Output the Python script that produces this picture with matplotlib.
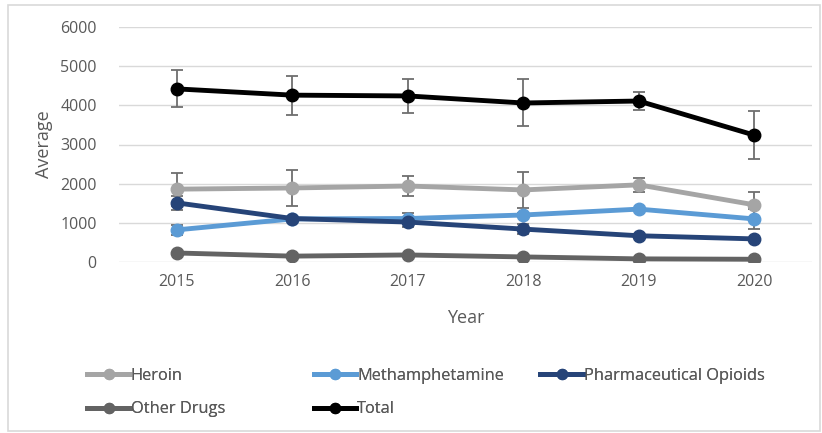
import matplotlib.pyplot as plt
from matplotlib.patches import Rectangle

plt.rcParams['font.family'] = ['Open Sans', 'DejaVu Sans']

years = [2015, 2016, 2017, 2018, 2019, 2020]

heroin = [1860, 1890, 1940, 1840, 1970, 1460]
heroin_err = [420, 470, 260, 460, 180, 340]

meth = [820, 1100, 1110, 1200, 1350, 1100]
meth_err = [120, 60, 130, 60, 40, 260]

pharma = [1510, 1110, 1020, 840, 670, 590]
pharma_err = [170, 40, 130, 130, 30, 30]

other = [230, 150, 180, 130, 80, 70]
other_err = [20, 20, 20, 20, 10, 10]

total = [4420, 4260, 4240, 4060, 4110, 3240]
total_err = [470, 500, 430, 600, 220, 610]

series = [
    ("Heroin", heroin, heroin_err, "#a5a5a5"),
    ("Methamphetamine", meth, meth_err, "#5b9bd5"),
    ("Pharmaceutical Opioids", pharma, pharma_err, "#264478"),
    ("Other Drugs", other, other_err, "#636363"),
    ("Total", total, total_err, "#000000"),
]

text_col = "#595959"

fig = plt.figure(figsize=(8.22, 4.33), dpi=100)
fig.patches.append(Rectangle((8 / 822, 2 / 433), 812 / 822, 426 / 433,
                             transform=fig.transFigure, fill=False,
                             edgecolor="#d9d9d9", linewidth=1.2))
ax = fig.add_axes([119 / 822, 1 - 262 / 433, 693 / 822, 235 / 433])

handles = {}
for name, vals, err, col in series:
    ax.errorbar(years, vals, yerr=err, fmt="none", ecolor="#6e6e6e",
                elinewidth=1.3, capsize=4, capthick=1.3, zorder=2)
    ln, = ax.plot(years, vals, color=col, linewidth=3.5, marker="o",
                  markersize=9, zorder=3)
    handles[name] = ln

ax.set_xlim(2014.5, 2020.5)
ax.set_ylim(0, 6000)
ax.set_xticks(years)
ax.set_yticks(range(0, 6001, 1000))
ax.grid(axis="y", color="#d9d9d9", linewidth=1)
ax.set_axisbelow(True)
for s in ax.spines.values():
    s.set_visible(False)
ax.tick_params(length=0, labelsize=11.5, colors=text_col, pad=9)
ax.tick_params(axis="y", pad=16)
ax.set_xlabel("Year", fontsize=13, color=text_col, labelpad=13)
ax.set_ylabel("Average", fontsize=13, color=text_col, labelpad=5)

# legend laid out in equal-width columns
columns = [["Heroin", "Other Drugs"], ["Methamphetamine", "Total"],
           ["Pharmaceutical Opioids"]]
for i, names in enumerate(columns):
    leg = fig.legend([handles[n] for n in names], names,
                     loc="upper left",
                     bbox_to_anchor=((79 + 226.5 * i) / 822, 1 - 360 / 433),
                     frameon=False, fontsize=11.8, handlelength=2.6,
                     handletextpad=0.05, labelspacing=1.05,
                     borderpad=0, labelcolor=text_col, markerscale=0.8)
    fig.add_artist(leg)

fig.savefig("out.png", dpi=100)
